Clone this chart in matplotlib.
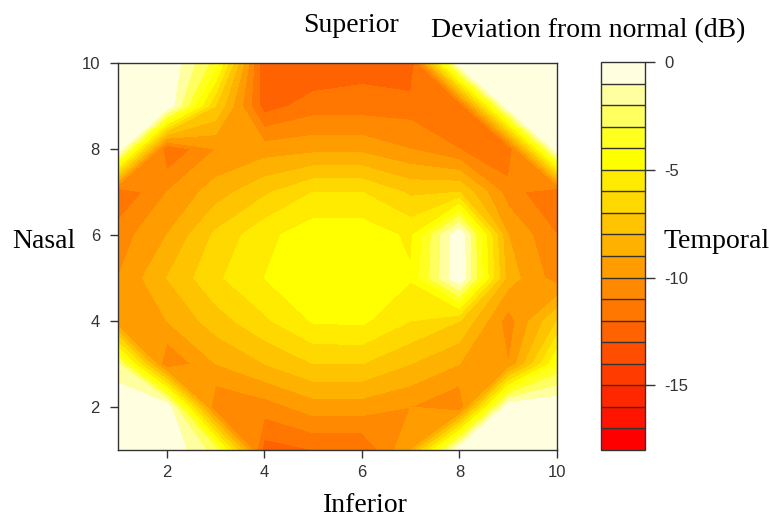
import colorsys
import numpy as np
import matplotlib
matplotlib.use("Agg")
import matplotlib.pyplot as plt

# ---- data: deviation from normal (dB) on a 10x10 grid (x = 1..10) ----
x_vals = [1, 2, 3, 4, 5, 6, 7, 8, 9, 10]
y_vals = [1, 2, 3, 4, 5, 6, 7, 8, 9, 10]
dev_y01 = [0, 0, -2.5, -12.5, -12, -12, -9, 0, 0, 0]
dev_y02 = [0, 0, -11, -10.5, -9.5, -9.5, -10, -11, 0, 0]
dev_y03 = [-1.8, -11, -9, -8, -7, -7, -8, -9, -10, -4]
dev_y04 = [-10, -9, -7.5, -6.2, -4.9, -4.8, -6.0, -7, -10.5, -7]
dev_y05 = [-10, -8, -6.2, -5.0, -4.3, -4.2, -4.9, 0, -8.5, -10.5]
dev_y06 = [-10.5, -9, -6.8, -5.3, -4.4, -4.4, -5.2, 0, -9, -11]
dev_y07 = [-12, -10, -8.5, -7.2, -6.0, -6.0, -7.2, -7, -10.5, -12]
dev_y08 = [0, -12, -10, -9.5, -9.3, -9.3, -10, -11, -12, 0]
dev_y09 = [0, 0, -7, -12.5, -11.5, -11.5, -11.5, -12, 0, 0]
dev_y10 = [0, 0, -3.5, -13, -13, -12.5, -13, 0, 0, 0]
levels = list(range(-18, 1))
x_ticks = [2, 4, 6, 8, 10]
y_ticks = [2, 4, 6, 8, 10]
cbar_ticks = [0, -5, -10, -15]


def heat_colors(n):
    j = n // 4
    i = n - j
    cols = []
    for h in np.linspace(0, 1 / 6, i):
        cols.append(colorsys.hsv_to_rgb(h, 1.0, 1.0))
    for s in np.linspace(1 - 1 / (2 * j), 1 / (2 * j), j):
        cols.append(colorsys.hsv_to_rgb(1 / 6, s, 1.0))
    return cols


plt.rcParams['axes.unicode_minus'] = False
Z = np.array([dev_y01, dev_y02, dev_y03, dev_y04, dev_y05,
              dev_y06, dev_y07, dev_y08, dev_y09, dev_y10])
X, Y = np.meshgrid(x_vals, y_vals)
colors = heat_colors(len(levels) - 1)

W, H = 769, 520
fig = plt.figure(figsize=(W / 100, H / 100), dpi=100)


def frac(l, t, r, b):
    return [l / W, 1 - b / H, (r - l) / W, (b - t) / H]


ax = fig.add_axes(frac(118, 63, 557, 450))
cs = ax.contourf(X, Y, Z, levels=levels, colors=colors)
ax.set_xlim(1, 10)
ax.set_ylim(1, 10)
ax.set_xticks(x_ticks)
ax.set_yticks(y_ticks)
tick_font = dict(family='Liberation Sans', size=12)
ax.set_xticklabels([str(v) for v in x_ticks], **tick_font, color='#333333')
ax.set_yticklabels([str(v) for v in y_ticks], **tick_font, color='#333333')
ax.tick_params(direction='out', length=6, width=1, color='#333333', pad=5)
ax.tick_params(axis='y', pad=7)
for sp in ax.spines.values():
    sp.set_color('#333333')
    sp.set_linewidth(1)

cax = fig.add_axes(frac(601, 62, 645, 450))
cb = fig.colorbar(cs, cax=cax, drawedges=True)
cb.set_ticks(cbar_ticks)
cb.set_ticklabels([str(v) for v in cbar_ticks])
for lab in cax.get_yticklabels():
    lab.set_fontfamily('Liberation Sans')
    lab.set_fontsize(12)
    lab.set_color('#333333')
cax.tick_params(direction='out', length=7, width=1, color='#333333', pad=7)
cb.outline.set_color('#333333')
cb.outline.set_linewidth(1)
cb.dividers.set_color('#333333')
cb.dividers.set_linewidth(1)

lab_font = dict(family='Liberation Serif', size=20)
fig.text(351 / W, 1 - 26 / H, 'Superior', ha='center', va='center', **lab_font)
fig.text(588 / W, 1 - 31 / H, 'Deviation from normal (dB)', ha='center', va='center', **lab_font)
fig.text(12 / W, 1 - 242 / H, 'Nasal', ha='left', va='center', **lab_font)
fig.text(663 / W, 1 - 242 / H, 'Temporal', ha='left', va='center', **lab_font)
fig.text(365 / W, 1 - 505 / H, 'Inferior', ha='center', va='center', **lab_font)

fig.savefig('out.png', dpi=100)
